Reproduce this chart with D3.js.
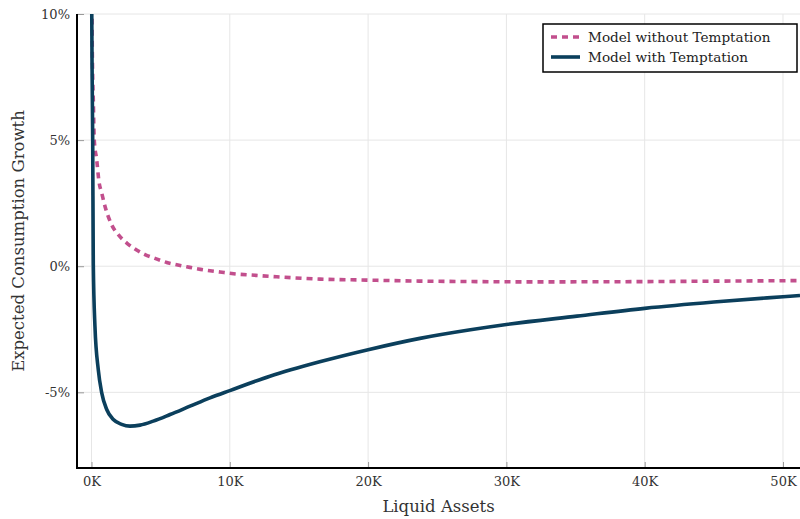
<!DOCTYPE html>
<html><head><meta charset="utf-8">
<script src="https://cdn.jsdelivr.net/npm/d3@7"></script>
<style>body{margin:0;background:#fff}svg{display:block}</style>
</head><body><svg id="c" width="800" height="519"></svg>
<script>
// Liquid assets in thousands of dollars, growth in percent
const assetsNoTempt = [0.02,0.058,0.13,0.20,0.376,0.54,0.74,0.98,1.46,1.94,2.55,3.15,3.87,4.59,5.44,6.16,6.88,7.72,8.57,9.29,10.14,11.82,13.39,16.52,19.9,23.75,27.85,31.7,39.88,45.5,51.23];
const growthNoTempt = [12,8.57,6.59,5.0,4.22,3.36,2.9,2.37,1.64,1.25,0.92,0.68,0.46,0.31,0.15,0.06,-0.02,-0.11,-0.18,-0.23,-0.29,-0.36,-0.42,-0.51,-0.55,-0.59,-0.61,-0.62,-0.61,-0.59,-0.57];
const assetsTempt = [0.0,0.04,0.087,0.13,0.25,0.49,0.74,1.10,1.58,2.18,2.78,3.51,4.47,5.68,7.12,8.57,10.0,12.9,16.5,20.0,23.75,27.4,30.0,35.1,40.0,45.0,50.0,51.23];
const growthTempt = [12,8,5.0,0.1,-2.38,-4.1,-5.02,-5.68,-6.08,-6.27,-6.34,-6.30,-6.14,-5.88,-5.55,-5.22,-4.93,-4.36,-3.79,-3.31,-2.86,-2.52,-2.31,-1.98,-1.67,-1.42,-1.21,-1.16];
const xTicks = [0,10,20,30,40,50];
const xTickLabels = ["0K","10K","20K","30K","40K","50K"];
const yTicks = [-5,0,5,10];
const yTickLabels = ["-5%","0%","5%","10%"];
const seriesNames = ["Model without Temptation","Model with Temptation"];

const svg = d3.select("#c");
const L=77,R=800,T=14,B=468;
const font='"DejaVu Serif", serif';
const x = d3.scaleLinear().domain([-1.048,51.23]).range([L,R]);
const y = d3.scaleLinear().domain([-8,10]).range([B,T]);

// grid
const g = svg.append("g");
g.selectAll("line.gx").data(xTicks).join("line")
  .attr("x1",d=>x(d)).attr("x2",d=>x(d)).attr("y1",T).attr("y2",B)
  .attr("stroke","#e6e6e6").attr("stroke-width",1);
g.selectAll("line.gy").data(yTicks).join("line")
  .attr("y1",d=>y(d)).attr("y2",d=>y(d)).attr("x1",L).attr("x2",R)
  .attr("stroke","#e6e6e6").attr("stroke-width",1);

// clip
svg.append("clipPath").attr("id","clip").append("rect").attr("x",L).attr("y",T).attr("width",R-L).attr("height",B-T);

const line = d3.line().x(d=>x(d[0])).y(d=>y(d[1])).curve(d3.curveMonotoneX);
const dataNo = assetsNoTempt.map((a,i)=>[a,growthNoTempt[i]]);
const dataT = assetsTempt.map((a,i)=>[a,growthTempt[i]]);
const pink="#c24f8d", navy="#0b3f5c";
svg.append("path").attr("clip-path","url(#clip)").attr("d",line(dataNo))
  .attr("fill","none").attr("stroke",pink).attr("stroke-width",3.6).attr("stroke-dasharray","6,5");
svg.append("path").attr("clip-path","url(#clip)").attr("d",line(dataT))
  .attr("fill","none").attr("stroke",navy).attr("stroke-width",3.6);

// axes
const xa = svg.append("g").attr("transform",`translate(0,${B})`)
  .call(d3.axisBottom(x).tickValues(xTicks).tickFormat((d,i)=>xTickLabels[i]).tickSize(-6).tickPadding(9));
const ya = svg.append("g").attr("transform",`translate(${L},0)`)
  .call(d3.axisLeft(y).tickValues(yTicks).tickFormat((d,i)=>yTickLabels[i]).tickSize(-7).tickPadding(7));
[xa,ya].forEach(a=>{
  a.select(".domain").remove();
  a.selectAll(".tick line").attr("stroke","#999").attr("stroke-width",1);
  a.selectAll(".tick text").attr("font-family",font).attr("font-size",13).attr("fill","#333");
});
svg.append("line").attr("x1",L).attr("x2",L).attr("y1",T).attr("y2",B+1).attr("stroke","#000").attr("stroke-width",2);
svg.append("line").attr("x1",L-1).attr("x2",R).attr("y1",B).attr("y2",B).attr("stroke","#000").attr("stroke-width",2);

// axis titles
svg.append("text").attr("x",(L+R)/2).attr("y",512).attr("text-anchor","middle")
  .attr("font-family",font).attr("font-size",16.5).attr("fill","#333").text("Liquid Assets");
svg.append("text").attr("transform",`translate(24,${(T+B)/2}) rotate(-90)`).attr("text-anchor","middle")
  .attr("font-family",font).attr("font-size",16.5).attr("fill","#333").text("Expected Consumption Growth");

// legend
const lg = svg.append("g");
lg.append("rect").attr("x",543).attr("y",24).attr("width",254).attr("height",48)
  .attr("fill","#fff").attr("stroke","#000").attr("stroke-width",1.5);
const cols=[pink,navy], dashes=["6,5",null];
seriesNames.forEach((n,i)=>{
  const yy=37+i*20;
  lg.append("line").attr("x1",551).attr("x2",580).attr("y1",yy).attr("y2",yy)
    .attr("stroke",cols[i]).attr("stroke-width",3.6).attr("stroke-dasharray",dashes[i]);
  lg.append("text").attr("x",588).attr("y",yy+4.5).attr("font-family",font).attr("font-size",13.6)
    .attr("fill","#222").text(n);
});
</script></body></html>
